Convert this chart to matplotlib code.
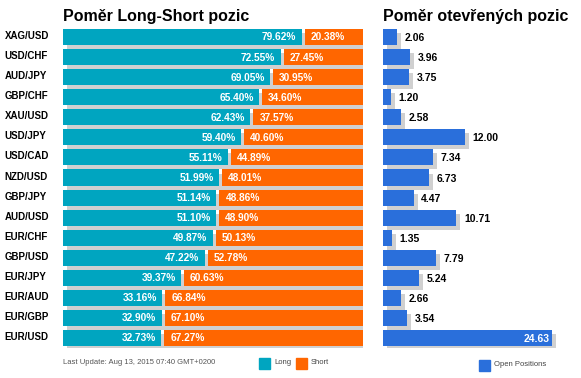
import matplotlib.pyplot as plt
from matplotlib.patches import Rectangle

plt.rcParams['font.family'] = ['Liberation Sans', 'DejaVu Sans']

pairs = ["XAG/USD", "USD/CHF", "AUD/JPY", "GBP/CHF", "XAU/USD", "USD/JPY", "USD/CAD",
         "NZD/USD", "GBP/JPY", "AUD/USD", "EUR/CHF", "GBP/USD", "EUR/JPY", "EUR/AUD",
         "EUR/GBP", "EUR/USD"]
long_pct = [79.62, 72.55, 69.05, 65.40, 62.43, 59.40, 55.11, 51.99, 51.14, 51.10,
            49.87, 47.22, 39.37, 33.16, 32.90, 32.73]
short_pct = [20.38, 27.45, 30.95, 34.60, 37.57, 40.60, 44.89, 48.01, 48.86, 48.90,
             50.13, 52.78, 60.63, 66.84, 67.10, 67.27]
open_pos = [2.06, 3.96, 3.75, 1.20, 2.58, 12.00, 7.34, 6.73, 4.47, 10.71,
            1.35, 7.79, 5.24, 2.66, 3.54, 24.63]

c_long = "#00A5C0"
c_short = "#FF6600"
c_open = "#2A6FDB"
c_shadow = "#D0D0D0"

W, H = 581, 378
fig = plt.figure(figsize=(W / 100, H / 100), dpi=100)

n = len(pairs)
top_px, row_px = 27, 20.07
bottom_px = top_px + n * row_px

def px_axes(x0, x1):
    return fig.add_axes([x0 / W, 1 - bottom_px / H, (x1 - x0) / W, (bottom_px - top_px) / H])

# left panel: long / short
ax = px_axes(63, 363)
ax.set_xlim(0, 100)
ax.set_ylim(n - 0.5, -0.5)
ax.axis("off")
ys = list(range(n))
h = 0.8
dx, dy = 1.3, 0.2
gap = 1.0
ax.barh([y + dy for y in ys], [100] * n, left=dx, height=h, color=c_shadow, zorder=1)
ax.barh(ys, long_pct, height=h, color=c_long, zorder=2)
ax.barh(ys, [s - gap for s in short_pct], left=[l + gap for l in long_pct], height=h,
        color=c_short, zorder=2)
for y, l, s, p in zip(ys, long_pct, short_pct, pairs):
    ax.text(l - 1.8, y + 0.02, f"{l:.2f}%", color="white", fontsize=7.3, fontweight="bold",
            ha="right", va="center", zorder=3)
    ax.text(l + 3.0, y + 0.02, f"{s:.2f}%", color="white", fontsize=7.3, fontweight="bold",
            ha="left", va="center", zorder=3)
    ax.text(-19.5, y - 0.05, p, color="black", fontsize=7, fontweight="bold",
            ha="left", va="center", clip_on=False)

fig.text(63 / W, 1 - 17 / H, "Poměr Long-Short pozic", fontsize=11.5, fontweight="bold",
         ha="left", va="center")

# right panel: open positions
scale = 6.86
ax2 = px_axes(383, 573)
ax2.set_xlim(0, 190 / scale)
ax2.set_ylim(n - 0.5, -0.5)
ax2.axis("off")
sdx = 4 / scale
ax2.barh([y + dy for y in ys], open_pos, left=sdx, height=h, color=c_shadow, zorder=1)
ax2.barh(ys, open_pos, height=h, color=c_open, zorder=2)
for y, v in zip(ys, open_pos):
    if v > 20:
        ax2.text(v - 0.4, y + 0.05, f"{v:.2f}", color="white", fontsize=7.5,
                 fontweight="bold", ha="right", va="center", zorder=3)
    else:
        ax2.text(v + 1.1, y + 0.05, f"{v:.2f}", color="black", fontsize=7.5,
                 fontweight="bold", ha="left", va="center", zorder=3)

fig.text(383 / W, 1 - 17 / H, "Poměr otevřených pozic", fontsize=11.5, fontweight="bold",
         ha="left", va="center")

# footer
fig.text(63 / W, 1 - 363 / H, "Last Update: Aug 13, 2015 07:40 GMT+0200", fontsize=5.5,
         color="#555555", ha="left", va="center")
for x0, col, lab in [(259, c_long, "Long"), (296, c_short, "Short"), (479, c_open, "Open Positions")]:
    yc = 363 if lab != "Open Positions" else 365
    fig.patches.append(Rectangle((x0 / W, 1 - (yc + 5.5) / H), 11 / W, 11 / H,
                                 transform=fig.transFigure, color=col))
    fig.text((x0 + 15) / W, 1 - yc / H, lab, fontsize=5.5, color="#444444",
             ha="left", va="center")

fig.savefig("out.png", dpi=100)
